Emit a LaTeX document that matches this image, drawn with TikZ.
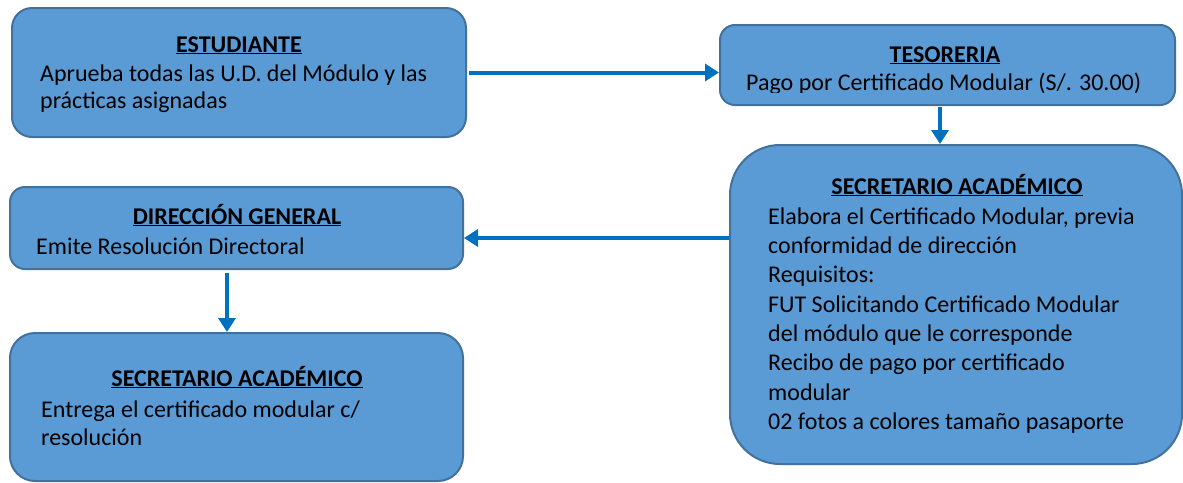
\documentclass[tikz,border=0pt]{standalone}
\usepackage{fontspec}
\setmainfont{Carlito}
\usetikzlibrary{arrows.meta}
\definecolor{boxfill}{HTML}{5B9BD5}
\definecolor{boxline}{HTML}{41719C}
\definecolor{arrowblue}{HTML}{0070C0}
\newcommand{\boxtitle}[1]{\underline{\textbf{#1}}}
% first-line strut: the text node's top sits 22pt above the first baseline
\newcommand{\firstline}{\rule{0pt}{22pt}}
\begin{document}
\begin{tikzpicture}[x=1pt,y=-1pt,
  stagebox/.style={draw=boxline, line width=2pt, fill=boxfill, rounded corners=#1, inner sep=0pt},
  titletext/.style={anchor=base, inner sep=0pt, font=\fontsize{24}{28}\selectfont},
  bodytext/.style={anchor=north west, inner sep=0pt, align=left, font=\fontsize{24}{#1}\selectfont},
  bodytext/.default=28,
  flow/.style={draw=arrowblue, line width=4pt, -{Triangle[length=14pt,width=17pt]}}]
\useasboundingbox (0,0) rectangle (1183,482);

% boxes
\node[stagebox=20, minimum width=454pt, minimum height=129pt] (est) at (239,72.5) {};
\node[stagebox=15, minimum width=455pt, minimum height=80pt] (tes) at (947.5,65) {};
\node[stagebox=50, minimum width=452pt, minimum height=319pt] (sec1) at (956,304.5) {};
\node[stagebox=15, minimum width=453pt, minimum height=82pt] (dir) at (236.5,228) {};
\node[stagebox=25, minimum width=453pt, minimum height=148pt] (sec2) at (236.5,407) {};

% texts (body nodes placed at first baseline minus 22pt)
\node[titletext] (estT) at (239,52) {\boxtitle{ESTUDIANTE}};
\node[bodytext=27.5] (estB) at (40,59) {\firstline Aprueba todas las U.D. del Módulo y las\\prácticas asignadas};

\node[titletext] (tesT) at (945,62) {\boxtitle{TESORERIA}};
\begin{scope}
  \clip (720,25) rectangle (1175,92.5);
  \node[bodytext] (tesB) at (746,68) {\firstline Pago por Certificado Modular (S/. 30.00)};
\end{scope}

\node[titletext] (sec1T) at (957,194) {\boxtitle{SECRETARIO ACADÉMICO}};
\node[bodytext=29.3] (sec1B) at (768,202) {\firstline Elabora el Certificado Modular, previa\\conformidad de dirección\\Requisitos:\\FUT Solicitando Certificado Modular\\del módulo que le corresponde\\Recibo de pago por certificado\\modular\\02 fotos a colores tamaño pasaporte};

\node[titletext] (dirT) at (237,224) {\boxtitle{DIRECCIÓN GENERAL}};
\node[bodytext] (dirB) at (36,232) {\firstline Emite Resolución Directoral};

\node[titletext] (sec2T) at (237,386) {\boxtitle{SECRETARIO ACADÉMICO}};
\node[bodytext=28] (sec2B) at (41,395) {\firstline Entrega el certificado modular c/\\resolución};

% connectors
\draw[flow, shorten <=2pt] (est.east) -- (est.east -| tes.west);
\coordinate (a2) at ([xshift=-7.5pt]tes.south);
\draw[flow, shorten <=1pt] (a2) -- (a2 |- sec1.north);
\coordinate (a3) at ([yshift=-10pt]dir.east);
\draw[flow] (a3 -| sec1.west) -- (a3);
\coordinate (a4) at ([xshift=-9.5pt]dir.south);
\draw[flow, shorten <=3pt] (a4) -- (a4 |- sec2.north);
\end{tikzpicture}
\end{document}
